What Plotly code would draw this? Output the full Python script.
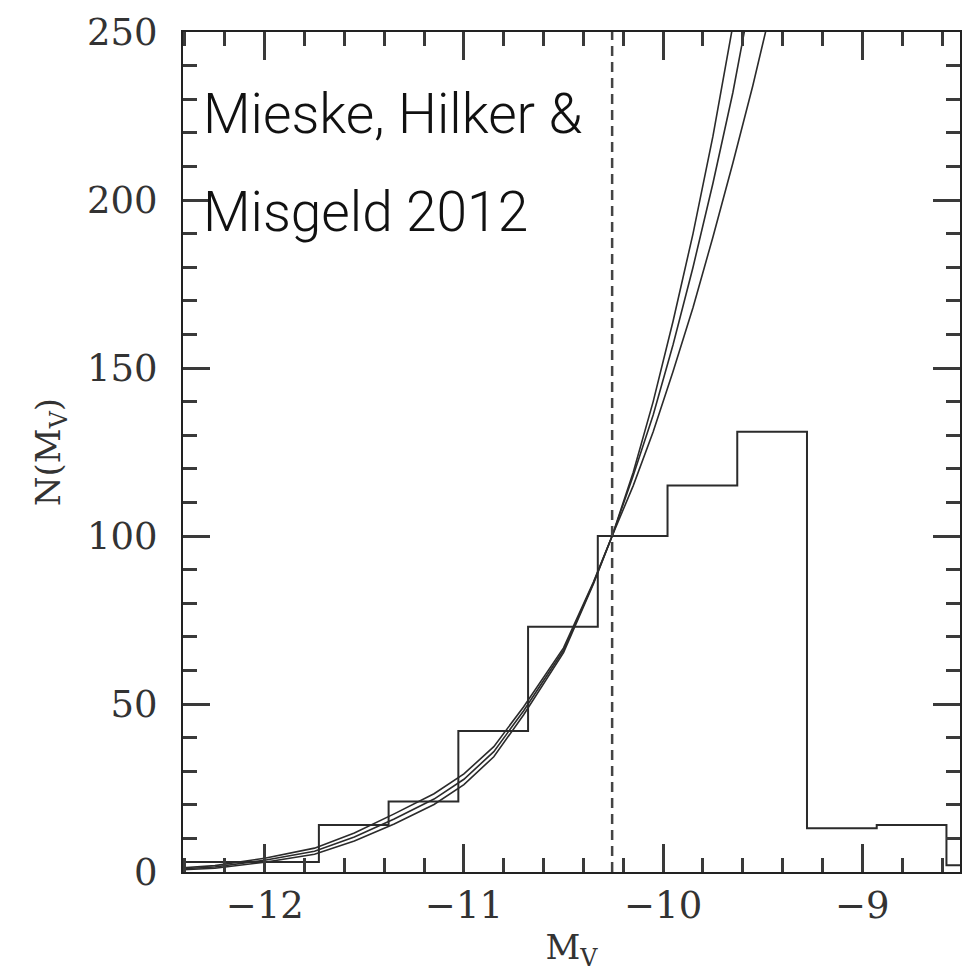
import plotly.graph_objects as go

# Histogram of M_V: bin edges and counts
bin_edges = [-12.428, -12.078, -11.728, -11.378, -11.028, -10.678, -10.328,
             -9.978, -9.628, -9.278, -8.928, -8.578, -8.228]
bin_counts = [3, 3, 14, 21, 42, 73, 100, 115, 131, 13, 14, 2]

# Extrapolated luminosity-function curves (sampled points)
curve_mag = [-12.43, -12.25, -12.0, -11.75, -11.55, -11.35, -11.15, -11.0,
             -10.85, -10.7, -10.5, -10.35, -10.256, -10.15, -10.05, -9.95,
             -9.85, -9.75, -9.65, -9.55, -9.45]
curve_a = [0.6, 1.1, 2.9, 5.3, 9.2, 14.3, 20.1, 26.0, 34.3, 46.8, 65.3, 85.7,
           100, 119, 140, 164, 190, 219, 252, 287, 325]
curve_b = [0.9, 1.5, 3.5, 6.2, 10.4, 15.8, 21.7, 27.6, 35.8, 48.0, 66.0, 86.0,
           100, 118, 136, 157, 180, 205, 232, 262, 295]
curve_c = [1.2, 1.9, 4.1, 7.1, 11.6, 17.3, 23.3, 29.2, 37.3, 49.2, 66.7, 86.3,
           100, 115, 131, 149, 168, 189, 211, 234, 259]

# Magnitude limit marked by the dashed line
mag_limit = -10.256

x_range = [-12.41, -8.51]
y_range = [0, 250]

ink = "#2b2b2b"
tick_col = "#3a3a3a"
serif = "DejaVu Serif"

fig = go.Figure()

# step histogram
fig.add_trace(go.Scatter(
    x=bin_edges, y=bin_counts + [bin_counts[-1]],
    mode="lines", line=dict(shape="hv", color=ink, width=2),
    hoverinfo="skip", showlegend=False,
))

for ys in (curve_a, curve_b, curve_c):
    fig.add_trace(go.Scatter(
        x=curve_mag, y=ys, mode="lines",
        line=dict(color=ink, width=1.6),
        hoverinfo="skip", showlegend=False,
    ))

fig.add_trace(go.Scatter(
    x=[mag_limit, mag_limit], y=y_range, mode="lines",
    line=dict(color="#444444", width=2.5, dash="10px,6px"),
    hoverinfo="skip", showlegend=False,
))

axis_common = dict(
    showline=True, linecolor="#222222", linewidth=2, mirror="allticks",
    ticks="inside", tickcolor=tick_col, tickwidth=2.5,
    showgrid=False, zeroline=False,
    tickfont=dict(family=serif, size=37, color="#333333"),
)

fig.update_xaxes(
    side="bottom",
    range=x_range, tickmode="linear", tick0=-12, dtick=1, ticklen=28,
    minor=dict(tickmode="linear", tick0=-12, dtick=0.2, ticklen=14,
               tickwidth=2.5, tickcolor=tick_col, ticks="inside"),
    title=dict(text="M<sub>V</sub>", font=dict(family=serif, size=34, color="#333333")),
    **axis_common,
)
fig.update_yaxes(
    range=y_range, tickmode="linear", tick0=0, dtick=50, ticklen=27,
    minor=dict(tickmode="linear", tick0=0, dtick=10, ticklen=14,
               tickwidth=2.5, tickcolor=tick_col, ticks="inside"),
    ticklabelstandoff=16,
    title=dict(text="N(M<sub>V</sub>)", font=dict(family=serif, size=34, color="#333333"), standoff=16),
    **axis_common,
)

label_font = dict(family="Roboto", size=55, color="#111111", weight=300)
fig.add_annotation(text="Mieske, Hilker &", xref="paper", yref="paper",
                   x=0.0235, y=0.902, xanchor="left", yanchor="middle",
                   showarrow=False, font=label_font)
fig.add_annotation(text="Misgeld 2012", xref="paper", yref="paper",
                   x=0.0235, y=0.786, xanchor="left", yanchor="middle",
                   showarrow=False, font=label_font)

fig.update_layout(
    width=963, height=972,
    margin=dict(l=183, r=1, t=32, b=100),
    paper_bgcolor="white", plot_bgcolor="white",
    showlegend=False,
)

fig.write_html("out.html")
